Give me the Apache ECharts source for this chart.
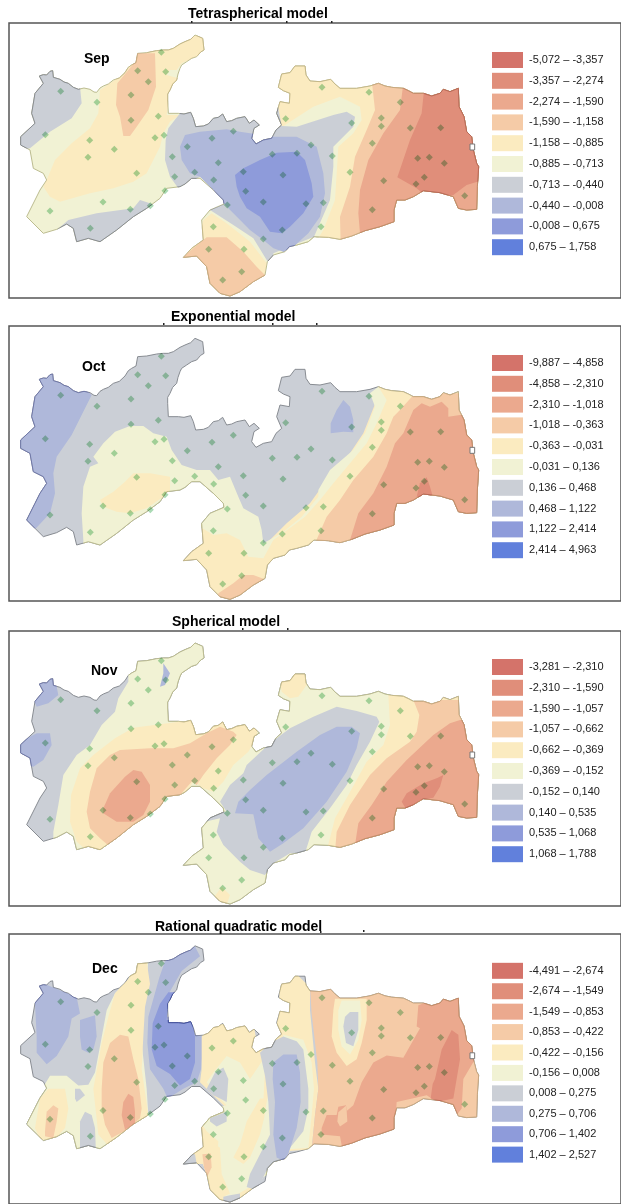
<!DOCTYPE html>
<html><head><meta charset="utf-8">
<style>html,body{margin:0;padding:0;background:#fff;overflow:hidden}#c{width:621px;height:1204px;filter:blur(0.4px)}</style>
<script src="https://cdn.jsdelivr.net/npm/echarts@6/dist/echarts.min.js"></script>
</head><body><div id="c"></div>
<script>
const months=['Sep','Oct','Nov','Dec'];
const models=['Tetraspherical model','Exponential model','Spherical model','Rational quadratic model'];
const legendSep=['-5,072 – -3,357','-3,357 – -2,274','-2,274 – -1,590','-1,590 – -1,158','-1,158 – -0,885','-0,885 – -0,713','-0,713 – -0,440','-0,440 – -0,008','-0,008 – 0,675','0,675 – 1,758'];
const legendOct=['-9,887 – -4,858','-4,858 – -2,310','-2,310 – -1,018','-1,018 – -0,363','-0,363 – -0,031','-0,031 – 0,136','0,136 – 0,468','0,468 – 1,122','1,122 – 2,414','2,414 – 4,963'];
const legendNov=['-3,281 – -2,310','-2,310 – -1,590','-1,590 – -1,057','-1,057 – -0,662','-0,662 – -0,369','-0,369 – -0,152','-0,152 – 0,140','0,140 – 0,535','0,535 – 1,068','1,068 – 1,788'];
const legendDec=['-4,491 – -2,674','-2,674 – -1,549','-1,549 – -0,853','-0,853 – -0,422','-0,422 – -0,156','-0,156 – 0,008','0,008 – 0,275','0,275 – 0,706','0,706 – 1,402','1,402 – 2,527'];
const bandColors=['#D4736A','#E08E7A','#EBA98E','#F5CBA7','#FBEBC0','#F1F2D4','#CBCFD6','#AFB8DA','#8E9BDA','#6180DC'];
const edgeColors=['#b0584e','#b86a58','#c08a68','#c8a880','#c4b88a','#bcbc90','#888c92','#7078a8','#404f9c','#2e3e94'];
const stations=[[484,157],[413,212],[497,215],[445,245],[182,274],[393,285],[291,307],[475,349],[393,361],[136,404],[465,413],[492,406],[636,415],[700,394],[269,421],[562,440],[343,448],[264,472],[517,470],[655,488],[584,517],[524,530],[410,520],[641,540],[730,515],[737,574],[495,572],[309,606],[150,633],[391,628],[451,617],[682,615],[271,685],[640,680],[626,748],[732,748],[725,815],[668,840],[966,262],[1107,277],[1201,307],[857,356],[1144,354],[1144,379],[1055,369],[1231,384],[1322,383],[1117,430],[933,435],[817,463],[891,460],[997,468],[1253,475],[1288,472],[1333,490],[1050,517],[849,525],[1273,532],[1151,542],[1248,552],[1394,587],[970,608],[790,606],[918,611],[1117,629],[963,680],[847,690],[790,717]];
const outline=[[118,228],[130,224],[140,225],[150,214],[158,212],[160,232],[180,238],[192,246],[205,250],[220,262],[235,268],[252,264],[270,268],[282,276],[290,277],[300,264],[310,258],[325,252],[340,240],[358,234],[375,218],[385,202],[395,195],[408,188],[413,160],[440,158],[470,152],[490,150],[505,150],[520,145],[540,132],[555,125],[572,118],[585,105],[608,115],[612,150],[602,156],[590,170],[575,175],[560,185],[545,195],[540,205],[534,222],[530,240],[518,252],[510,270],[503,282],[503,300],[505,340],[535,340],[552,342],[572,337],[580,355],[587,380],[610,378],[625,372],[640,355],[655,352],[668,342],[680,365],[695,362],[710,355],[735,350],[748,370],[762,360],[778,375],[762,385],[755,415],[768,432],[790,420],[815,415],[828,390],[845,375],[830,340],[840,305],[868,310],[870,280],[850,272],[835,262],[845,222],[870,218],[885,198],[915,198],[918,225],[930,243],[960,245],[992,238],[1005,252],[1020,265],[1070,265],[1110,258],[1135,250],[1155,258],[1175,262],[1210,265],[1225,272],[1240,280],[1270,280],[1295,288],[1320,280],[1330,268],[1350,275],[1375,265],[1377,320],[1392,350],[1400,395],[1415,410],[1420,450],[1430,490],[1436,500],[1432,560],[1430,628],[1400,630],[1375,625],[1360,590],[1320,578],[1270,572],[1240,590],[1215,600],[1190,600],[1182,630],[1182,665],[1140,680],[1095,692],[1055,708],[1020,718],[985,712],[942,710],[925,725],[890,735],[868,740],[855,755],[820,765],[802,785],[795,825],[760,845],[720,875],[690,888],[660,880],[630,850],[620,800],[590,768],[550,772],[575,745],[610,720],[605,660],[630,630],[672,612],[670,600],[640,570],[600,535],[575,535],[555,552],[540,560],[500,565],[480,595],[440,625],[400,650],[350,690],[300,725],[265,715],[230,725],[220,685],[200,672],[170,688],[130,700],[80,650],[105,600],[120,570],[140,540],[130,520],[100,505],[90,450],[62,435],[62,410],[105,370],[95,340],[105,280],[130,250]];
const islet=[[1410,432],[1424,432],[1424,450],[1410,450]];
const wholeMap=[[0,0],[1900,0],[1900,1300],[0,1300]];
const bandsSep=[
[5,wholeMap],
[4,[[300,270],[345,240],[410,170],[480,140],[610,100],[630,150],[545,190],[530,210],[510,210],[500,225],[535,235],[510,280],[500,345],[540,345],[510,365],[490,400],[480,440],[440,520],[400,545],[340,565],[270,580],[180,605],[150,590],[130,560],[140,540],[165,480],[215,430],[270,385],[295,340]]],
[3,[[410,160],[465,160],[468,260],[445,330],[410,380],[390,408],[370,408],[360,350],[348,315],[352,250],[385,210],[405,185]]],
[6,[[40,150],[240,150],[240,260],[245,310],[215,355],[150,395],[90,445],[40,450]]],
[6,[[170,690],[205,660],[290,640],[400,625],[420,600],[450,610],[470,620],[400,700],[300,760],[200,740]]],
[4,[[610,660],[635,640],[680,670],[750,725],[785,770],[800,790],[780,900],[600,900],[540,790],[600,700]]],
[3,[[545,775],[580,745],[620,712],[680,712],[730,755],[770,800],[800,830],[770,900],[600,900],[540,800]]],
[4,[[830,180],[1500,180],[1500,800],[1000,800],[950,720],[900,500],[830,400]]],
[3,[[1115,240],[1125,330],[1100,390],[1065,470],[1050,560],[1020,650],[1022,730],[1100,760],[1500,760],[1500,240]]],
[2,[[1210,250],[1200,330],[1150,400],[1105,480],[1080,570],[1075,640],[1080,700],[1120,760],[1500,760],[1500,250]]],
[1,[[1272,270],[1265,340],[1230,420],[1192,532],[1250,565],[1280,590],[1360,585],[1400,555],[1450,540],[1450,250]]],
[5,[[840,385],[940,320],[1020,290],[1080,320],[1085,360],[1060,400],[1015,440],[1005,600],[970,690],[945,730],[880,760],[860,500]]],
[6,[[540,340],[505,385],[497,420],[495,480],[510,530],[535,565],[600,530],[650,560],[680,610],[630,630],[700,675],[760,715],[800,780],[820,800],[820,760],[942,710],[990,600],[1000,500],[1000,440],[1060,380],[1065,350],[1040,335],[1000,345],[890,380],[845,378],[830,300],[700,300],[540,320]]],
[7,[[540,440],[555,405],[600,395],[680,388],[720,395],[820,410],[890,410],[950,440],[970,520],[975,580],[960,650],[925,700],[880,740],[850,755],[820,745],[790,720],[750,690],[700,640],[670,610],[640,570],[600,530],[570,520],[545,480]]],
[8,[[705,525],[730,505],[750,495],[780,480],[830,458],[890,455],[915,480],[935,550],[940,590],[910,640],[870,680],[845,700],[810,695],[780,650],[740,625],[720,590],[710,560]]]
];
const bandsOct=[
[6,wholeMap],
[7,[[40,150],[200,150],[200,220],[275,285],[245,345],[215,405],[170,470],[160,520],[165,580],[150,640],[108,685],[60,690],[40,400]]],
[4,[[1135,255],[1130,300],[1090,400],[1050,460],[980,540],[930,610],[860,670],[800,730],[760,745],[700,690],[640,690],[600,670],[540,780],[600,930],[1500,930],[1500,250]]],
[5,[[250,720],[245,640],[250,560],[270,500],[295,490],[280,470],[310,430],[330,410],[345,395],[390,378],[430,378],[460,400],[500,410],[515,450],[545,495],[590,510],[630,510],[655,540],[690,530],[715,590],[730,625],[775,650],[785,690],[790,730],[845,700],[905,650],[955,590],[955,570],[990,510],[1060,450],[1095,400],[1125,320],[1110,280],[1135,260],[1160,300],[1130,370],[1100,430],[1050,490],[1000,550],[960,600],[915,650],[875,680],[820,720],[790,775],[745,770],[720,720],[680,700],[640,705],[600,680],[520,660],[400,770],[250,770]]],
[4,[[300,600],[340,575],[375,545],[400,520],[450,520],[510,530],[510,570],[490,590],[440,625],[390,640],[350,635],[310,620]]],
[3,[[1245,280],[1200,330],[1180,350],[1160,400],[1120,470],[1060,540],[1020,600],[980,650],[945,730],[1000,770],[1500,770],[1500,280]]],
[2,[[1265,310],[1240,330],[1210,400],[1185,430],[1160,500],[1120,580],[1075,640],[1050,720],[1080,770],[1500,770],[1500,345],[1380,345],[1345,350],[1345,325],[1325,305],[1290,320]]],
[1,[[1250,590],[1260,550],[1280,532],[1290,560],[1297,585],[1280,595]]],
[7,[[1030,300],[1050,320],[1060,360],[1060,397],[1030,395],[992,400],[992,370],[1010,330]]],
[3,[[655,880],[700,850],[730,825],[760,825],[800,840],[800,930],[655,930]]]
];
const bandsNov=[
[6,wholeMap],
[7,[[100,200],[170,200],[170,245],[175,270],[145,295],[110,305],[90,260]]],
[7,[[40,420],[110,385],[150,385],[155,420],[130,465],[100,485],[40,470]]],
[5,[[385,200],[395,150],[620,90],[630,300],[700,330],[800,100],[1300,100],[1300,770],[900,770],[820,810],[750,930],[520,930],[520,700],[500,770],[160,770],[160,680],[175,600],[190,510],[230,450],[270,420],[305,360],[345,320],[355,280],[385,230]]],
[7,[[490,175],[510,205],[495,240],[480,245],[490,205]]],
[4,[[840,230],[885,205],[915,205],[920,240],[895,275],[870,280],[845,260]]],
[4,[[345,400],[400,368],[480,358],[575,345],[600,330],[720,340],[775,350],[770,400],[745,440],[700,480],[670,530],[640,560],[610,550],[580,530],[520,620],[400,740],[300,770],[230,710],[210,650],[213,570],[240,490],[280,450]]],
[3,[[260,620],[270,560],[290,490],[330,450],[360,435],[450,430],[520,430],[570,415],[620,385],[660,365],[700,380],[710,390],[690,420],[650,460],[610,510],[590,540],[575,530],[540,570],[480,620],[400,680],[330,725],[300,700],[270,670]]],
[2,[[310,610],[330,565],[375,515],[400,495],[425,500],[450,540],[450,590],[430,630],[400,650],[350,650],[310,625]]],
[6,[[660,590],[690,540],[730,505],[740,480],[810,415],[870,370],[940,335],[1010,305],[1070,318],[1130,335],[1138,350],[1110,410],[1070,480],[1040,540],[990,610],[935,680],[915,745],[870,745],[820,775],[795,810],[750,795],[720,770],[670,720],[650,680],[660,640],[615,650],[640,620],[680,620]]],
[7,[[1080,385],[1055,365],[1010,365],[960,390],[890,440],[800,510],[750,555],[715,590],[705,625],[760,628],[775,700],[810,740],[850,715],[910,670],[980,590],[1040,500],[1070,430]]],
[4,[[1165,270],[1170,360],[1150,420],[1100,470],[1045,570],[1005,640],[982,730],[1000,770],[1500,770],[1500,260]]],
[3,[[1240,285],[1258,330],[1250,380],[1230,410],[1160,460],[1110,510],[1050,600],[1010,680],[1005,740],[1020,770],[1500,770],[1500,285]]],
[2,[[1380,345],[1350,355],[1300,390],[1220,465],[1160,530],[1115,600],[1075,655],[1065,720],[1080,770],[1500,770],[1500,345]]],
[1,[[1330,510],[1320,545],[1300,578],[1260,585],[1220,615],[1205,590],[1220,565],[1270,535],[1310,520]]],
[4,[[640,880],[665,845],[690,870],[680,900],[650,900]]]
];
const bandsDec=[
[6,wholeMap],
[7,[[100,225],[170,255],[230,280],[240,330],[215,345],[205,400],[170,460],[140,485],[110,450],[110,400],[105,300]]],
[7,[[240,350],[285,335],[290,400],[280,440],[265,450],[245,440],[240,400]]],
[5,[[135,545],[150,520],[200,520],[235,550],[265,548],[285,510],[300,430],[320,320],[345,268],[385,225],[410,170],[445,170],[430,340],[425,420],[440,560],[445,640],[400,700],[330,770],[200,770],[80,690],[80,650],[110,600]]],
[4,[[345,268],[385,225],[410,170],[440,170],[450,240],[435,310],[430,400],[425,500],[445,640],[390,690],[330,740],[295,700],[280,560],[305,420],[325,340]]],
[4,[[120,590],[145,560],[195,560],[205,620],[195,680],[165,715],[120,715],[105,680]]],
[3,[[135,690],[140,630],[160,610],[175,620],[170,660],[160,710],[135,705]]],
[3,[[305,560],[310,480],[330,420],[360,395],[385,400],[400,470],[415,530],[425,620],[420,650],[380,685],[335,710],[315,670],[305,620]]],
[2,[[365,640],[370,600],[385,575],[400,585],[405,630],[405,665],[375,685]]],
[6,[[225,560],[240,560],[255,580],[230,600],[225,590]]],
[6,[[240,660],[255,630],[275,640],[285,680],[288,760],[240,760]]],
[7,[[495,170],[478,220],[445,340],[442,420],[450,500],[490,560],[503,590],[550,560],[590,540],[603,500],[612,400],[580,395],[570,340],[500,340],[500,280],[545,200],[600,155],[585,125],[540,140]]],
[8,[[505,265],[535,265],[505,295],[500,350],[575,350],[585,400],[585,480],[570,530],[540,550],[510,515],[470,490],[455,440],[458,360],[480,300]]],
[4,[[605,400],[640,365],[760,355],[770,420],[790,440],[810,520],[820,700],[800,800],[770,860],[700,910],[640,910],[610,790],[540,790],[600,680],[630,640],[680,620],[600,540],[605,500]]],
[5,[[620,540],[640,510],[680,460],[720,480],[750,530],[770,500],[790,470],[810,530],[815,700],[790,810],[750,860],[700,890],[670,890],[650,820],[655,720],[620,690],[600,660],[640,620],[680,610],[650,580]]],
[4,[[700,770],[720,730],[740,660],[780,590],[795,590],[795,640],[780,700],[750,770],[730,790]]],
[4,[[630,720],[660,740],[665,820],[690,880],[650,900],[625,830],[600,770],[610,730]]],
[3,[[607,760],[632,758],[635,800],[622,828],[612,800]]],
[6,[[620,560],[645,510],[670,495],[685,530],[680,600],[660,590],[640,580]]],
[6,[[630,650],[680,630],[680,660],[650,675],[630,660]]],
[6,[[670,890],[690,885],[720,880],[720,920],[670,920]]],
[6,[[540,780],[560,760],[585,760],[590,790],[550,800]]],
[4,[[770,440],[820,400],[835,340],[840,240],[880,200],[930,250],[930,320],[945,480],[955,560],[945,640],[935,745],[870,750],[850,790],[800,800],[790,600],[795,500]]],
[5,[[850,395],[910,410],[935,480],[942,560],[935,640],[925,740],[870,745],[850,790],[790,830],[770,860],[770,800],[800,600]]],
[6,[[780,450],[810,420],[850,400],[890,415],[910,440],[925,560],[925,620],[910,690],[870,740],[850,780],[820,790],[800,810],[770,870],[740,860],[750,820],[775,770],[810,700],[805,600],[795,520]]],
[7,[[820,480],[850,455],[890,455],[900,510],[902,600],[890,680],[865,760],[850,780],[830,770],[820,700],[825,600],[818,530]]],
[3,[[930,250],[1500,250],[1500,760],[1000,760],[935,745],[945,640],[955,560],[952,480],[935,330]]],
[4,[[1005,285],[1100,285],[1100,350],[1085,420],[1070,470],[1040,490],[1010,450],[995,400],[1000,320]]],
[5,[[1025,290],[1080,290],[1085,350],[1075,410],[1050,455],[1025,430],[1015,380],[1015,320]]],
[6,[[1050,325],[1075,325],[1075,380],[1060,430],[1038,420],[1030,370],[1035,340]]],
[2,[[1255,305],[1250,370],[1260,375],[1235,420],[1210,465],[1160,458],[1120,480],[1085,540],[1060,610],[1040,628],[1038,610],[1015,615],[1010,640],[980,640],[965,680],[965,700],[1020,705],[1030,760],[1180,760],[1190,600],[1280,580],[1370,640],[1385,620],[1390,530],[1425,470],[1420,280],[1320,280]]],
[3,[[1015,632],[1038,612],[1040,628],[1042,660],[1020,675],[1012,660]]],
[1,[[1305,530],[1325,440],[1355,380],[1375,395],[1380,470],[1360,590],[1320,598],[1292,590],[1298,545]]]
];
const bandSets=[bandsSep,bandsOct,bandsNov,bandsDec];
const legends=[legendSep,legendOct,legendNov,legendDec];
const frameTops=[23,326,631,934];
const yStart=[69,78,78,87];
const outlineShift=[0,10,9,18];
const stationShift=[0,12,10,20];
const legendY=[180,189,186,199.5];
const titleX=[188,171,172,155];
const titleTop=[7,310,615,920];
const monthX=[84,82,91,92];
const monthTop=[52,360,664,962];
const frameSpecks=[[191,21],[286,21],[331,21],[163,323],[272,323],[316,323],[242,628],[287,628],[363,930],[320,931]];

const chart=echarts.init(document.getElementById('c'),null,{renderer:'canvas'});
const grids=[],xAxes=[],yAxes=[],series=[],titles=[];
frameTops.forEach((top,i)=>{
  const shape=outline.map(p=>[p[0],p[1]+outlineShift[i]]);
  const isle=islet.map(p=>[p[0],p[1]+outlineShift[i]]);
  grids.push({left:9,top:top,width:612,height:275,show:true,borderColor:'#555',borderWidth:1.5,backgroundColor:'#fff'});
  xAxes.push({type:'value',gridIndex:i,min:27,max:1863,show:false});
  yAxes.push({type:'value',gridIndex:i,min:yStart[i],max:yStart[i]+825,inverse:true,show:false});
  const bands=bandSets[i];
  series.push({type:'custom',xAxisIndex:i,yAxisIndex:i,silent:true,z:2,
    data:bands.map((b,k)=>[b[1][0][0],b[1][0][1],k]),
    renderItem:(params,api)=>{
      const b=bands[api.value(2)];
      const shapePx=shape.map(p=>api.coord(p));
      const bandPx=b[1].map(p=>api.coord(p));
      return {type:'group',children:[
        {type:'polygon',shape:{points:bandPx},style:{fill:bandColors[b[0]],stroke:null},clipPath:{type:'polygon',shape:{points:shapePx}}},
        {type:'polygon',shape:{points:shapePx},style:{fill:null,stroke:edgeColors[b[0]],lineWidth:1},clipPath:{type:'polygon',shape:{points:bandPx}}}
      ]};
    }});
  series.push({type:'custom',xAxisIndex:i,yAxisIndex:i,silent:true,z:3,data:[[isle[0][0],isle[0][1]]],
    renderItem:(params,api)=>({type:'polygon',shape:{points:isle.map(p=>api.coord(p))},style:{fill:'#fff',stroke:'#777',lineWidth:1}})});
  series.push({type:'scatter',xAxisIndex:i,yAxisIndex:i,silent:true,z:4,symbol:'diamond',symbolSize:7,blendMode:'multiply',
    itemStyle:{color:'rgb(170,218,180)',opacity:1},
    data:stations.map(s=>[s[0],s[1]+stationShift[i]])});
  series.push({type:'scatter',xAxisIndex:i,yAxisIndex:i,silent:true,z:5,symbol:'rect',symbolSize:[31,16],
    data:legends[i].map((t,k)=>({value:[1522.5,legendY[i]+k*62.4],itemStyle:{color:bandColors[k],opacity:1},
      label:{show:true,position:'right',distance:6,formatter:t,fontFamily:'Liberation Sans',fontSize:11,color:'#222'}}))});
  titles.push({text:models[i],left:titleX[i],top:titleTop[i],padding:0,textStyle:{fontFamily:'Liberation Sans',fontWeight:'bold',fontSize:14,color:'#000'}});
  titles.push({text:months[i],left:monthX[i],top:monthTop[i],padding:0,textStyle:{fontFamily:'Liberation Sans',fontWeight:'bold',fontSize:14,color:'#000'}});
});
chart.setOption({animation:false,backgroundColor:'#fff',title:titles,grid:grids,xAxis:xAxes,yAxis:yAxes,series:series,
  graphic:frameSpecks.map(s=>({type:'rect',left:s[0],top:s[1],shape:{width:1.5,height:2},style:{fill:'#222'},silent:true}))});
</script></body></html>
